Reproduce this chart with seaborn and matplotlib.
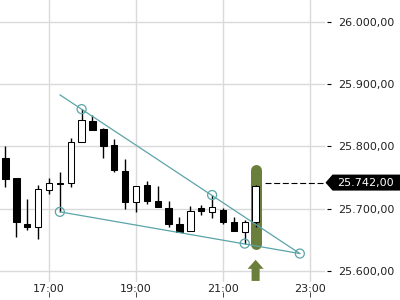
import matplotlib
matplotlib.use("Agg")
import matplotlib.pyplot as plt
import numpy as np
import pandas as pd
import seaborn as sns
from matplotlib.path import Path
from matplotlib.ticker import FuncFormatter
import matplotlib.transforms as mtransforms

# ---------------- data ----------------
times = ["16:00", "16:15", "16:30", "16:45", "17:00", "17:15", "17:30", "17:45",
         "18:00", "18:15", "18:30", "18:45", "19:00", "19:15", "19:30", "19:45",
         "20:00", "20:15", "20:30", "20:45", "21:00", "21:15", "21:30", "21:45"]
opens = [25781, 25749, 25675, 25670, 25730, 25741, 25741, 25807,
         25841, 25828, 25802, 25761, 25711, 25738, 25712, 25701,
         25675, 25664, 25701, 25695, 25698, 25678, 25663, 25678]
highs = [25801, 25749, 25715, 25738, 25749, 25759, 25813, 25860,
         25851, 25829, 25812, 25780, 25737, 25745, 25737, 25712,
         25686, 25704, 25706, 25722, 25701, 25686, 25682, 25738]
lows = [25735, 25655, 25666, 25652, 25723, 25695, 25735, 25807,
        25827, 25782, 25759, 25699, 25695, 25707, 25702, 25671,
        25663, 25664, 25690, 25685, 25676, 25664, 25644, 25671]
closes = [25748, 25678, 25671, 25731, 25742, 25739, 25807, 25843,
          25827, 25801, 25762, 25711, 25737, 25713, 25702, 25675,
          25663, 25697, 25696, 25702, 25678, 25664, 25678, 25736]

upper_line_times = ["17:15", "22:46"]
upper_line_values = [25883, 25628]
lower_line_times = ["17:15", "22:46"]
lower_line_values = [25695, 25628]
anchor_times = ["17:45", "20:45", "17:15", "21:30", "22:46"]
anchor_values = [25860, 25722, 25695, 25644, 25628]

last_price = 25742.0
last_price_line_start = "21:58"
highlight_time = "21:45"
highlight_range = [25644, 25763]
arrow_range = [25584, 25618]

x_tick_labels = ["17:00", "19:00", "21:00", "23:00"]
y_ticks = [25600, 25700, 25800, 25900, 26000]

# ---------------- helpers ----------------
def to_h(s):
    h, m = s.split(":")
    return int(h) + int(m) / 60.0


def de_fmt(v, pos=None):
    s = f"{v:,.2f}"
    return s.replace(",", "X").replace(".", ",").replace("X", ".")


teal = "#5ba4a8"
olive = "#6a7f3b"
txt = "#222222"

sns.set_theme(style="whitegrid", rc={"grid.color": "#dadada", "grid.linewidth": 1.0})
plt.rcParams["font.family"] = ["DejaVu Sans"]

fig = plt.figure(figsize=(4, 3), dpi=100)
ax = fig.add_axes([0.0, 0.06, 0.8125, 0.94])
ax.set_facecolor("white")

x = np.array([to_h(t) for t in times])
o = np.array(opens, float)
h = np.array(highs, float)
l = np.array(lows, float)
c = np.array(closes, float)

# highlight bar
hx = to_h(highlight_time)
ax.plot([hx, hx], highlight_range, color=olive, lw=7.9, solid_capstyle="round", zorder=1.5)

# wicks
ax.vlines(x, l, h, colors="black", lw=1.0, zorder=2)
# bodies
up = c >= o
body_bottom = np.minimum(o, c)
body_h = np.maximum(np.abs(c - o), 1.0)
ax.bar(x, body_h, bottom=body_bottom, width=0.145,
       color=np.where(up, "white", "black"), edgecolor="black", linewidth=0.75, zorder=3)

# trend lines
lines_df = pd.DataFrame({
    "x": [to_h(t) for t in upper_line_times] + [to_h(t) for t in lower_line_times],
    "y": upper_line_values + lower_line_values,
    "line": ["upper"] * len(upper_line_times) + ["lower"] * len(lower_line_times),
})
sns.lineplot(data=lines_df, x="x", y="y", hue="line", palette=[teal, teal],
             legend=False, sort=False, lw=0.9, ax=ax, zorder=4)
sns.scatterplot(x=[to_h(t) for t in anchor_times], y=anchor_values, s=42,
                color=teal, facecolor="none", edgecolor=teal, linewidth=0.9,
                ax=ax, zorder=5)

# arrow
ax.annotate("", xy=(hx, arrow_range[1]), xytext=(hx, arrow_range[0]),
            arrowprops=dict(arrowstyle="simple,head_width=1.15,head_length=0.65,tail_width=0.58",
                            fc=olive, ec=olive, lw=0, shrinkA=0, shrinkB=0, mutation_scale=10),
            zorder=3)

# limits
ax.set_xlim(15.874, 23.345)
ax.set_ylim(25582.3, 26035.3)

# last price dashed line
ax.hlines(last_price, to_h(last_price_line_start), 23.36, colors="black", lw=0.8,
          linestyles=(0, (5.4, 2.4)), clip_on=False, zorder=4)


def price_tag(x0, y0, width, height, mutation_size):
    ms = mutation_size
    left = x0 - 0.45 * ms
    tip = left - 0.63 * ms
    right = x0 + width + 0.9 * ms
    yc = y0 + height / 2.0
    hh = 0.72 * ms
    return Path([(left, yc - hh), (right, yc - hh), (right, yc + hh), (left, yc + hh),
                 (tip, yc), (left, yc - hh)], closed=True)


trans = mtransforms.blended_transform_factory(ax.transAxes, ax.transData)
ax.text(1.0385, last_price, de_fmt(last_price), transform=trans, color="white",
        fontsize=8, va="center", ha="left", clip_on=False, zorder=6,
        bbox=dict(boxstyle=price_tag, fc="black", ec="none"))

# ticks
ax.set_xticks([to_h(t) for t in x_tick_labels])
ax.set_xticklabels(x_tick_labels)
ax.set_yticks(y_ticks)
ax.yaxis.set_major_formatter(FuncFormatter(de_fmt))
ax.yaxis.tick_right()
ax.spines["right"].set_position(("outward", 1.5))
for sp in ax.spines.values():
    sp.set_visible(False)
ax.tick_params(axis="y", right=True, left=False, labelright=True, labelleft=False,
               length=2.9, width=0.8, color="black", pad=5, labelsize=8, labelcolor=txt,
               direction="out")
ax.tick_params(axis="x", bottom=False, length=0, pad=1.5, labelsize=8, labelcolor=txt)
ax.grid(True, color="#dadada", lw=1.0)
ax.set_axisbelow(True)
ax.set_xlabel("")
ax.set_ylabel("")

sec = ax.secondary_xaxis(-10 / 282)
sec.set_xticks([to_h(t) for t in x_tick_labels])
sec.tick_params(axis="x", bottom=True, length=3.6, width=0.7, color="#444444",
                labelbottom=False, direction="out")
for sp in sec.spines.values():
    sp.set_visible(False)

fig.savefig("out.png", dpi=100, facecolor="white")
